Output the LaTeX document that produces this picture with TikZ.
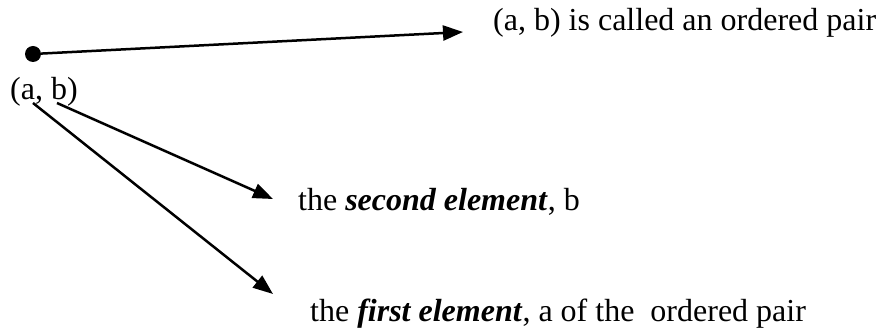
\documentclass[tikz,border=0pt]{standalone}
\usepackage{fontspec}
\setmainfont{Liberation Serif}
\usetikzlibrary{arrows.meta, positioning}

\begin{document}
\begin{tikzpicture}[x=1pt, y=-1pt,
  every node/.style = {font=\fontsize{32}{38}\selectfont, inner sep=0pt},
  dot/.style  = {circle, fill=black, minimum size=16pt},
  lbl/.style  = {anchor=base west},
  arr/.style  = {-{Triangle[length=20pt, width=15pt]}, line width=2.5pt}
]
\useasboundingbox (0,0) rectangle (879,328);

\node[dot] (pt) at (33,54) {};
\node[lbl] (pair) at (10,100) {(a, b)};

\node[lbl] (called) at (493,31) {(a, b) is called an ordered pair};
\node[lbl] (second) at (298,211) {the \textbf{\textit{second element}}, b};
\node[lbl] (first)  at (310,322) {the \textbf{\textit{first element}}, a of the\ \ ordered pair};

% ends of the arrows
\coordinate (froma) at (33,103);
\coordinate (fromb) at (57,103);
\coordinate (tocalled) at (463,32);
\coordinate (tosecond) at (273,199);
\coordinate (tofirst)  at (273,294);

\draw[arr] (pt) -- (tocalled);
\draw[arr] (fromb) -- (tosecond);
\draw[arr] (froma) -- (tofirst);
\end{tikzpicture}
\end{document}
